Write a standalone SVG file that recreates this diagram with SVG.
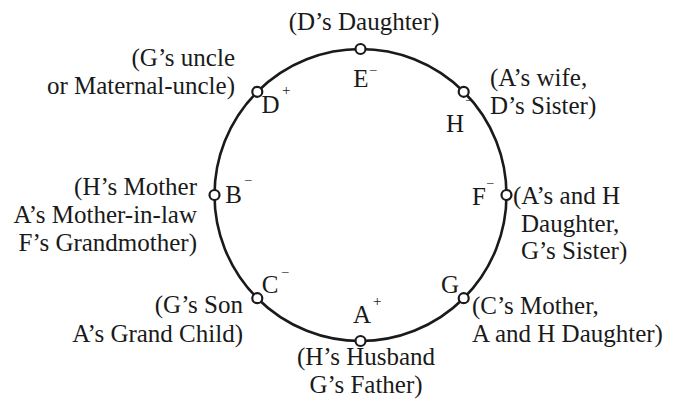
<svg xmlns="http://www.w3.org/2000/svg" width="681" height="399" viewBox="0 0 681 399" font-family="'Liberation Serif', Tinos, 'Times New Roman', 'DejaVu Serif', serif">
<style>
text{font-family:'Liberation Serif',Tinos,'Times New Roman','DejaVu Serif',serif;fill:#1a1a1a}
.t{font-size:25px}
.l{font-size:25px}
.s{font-size:13px}
.p{font-size:15px}
.m{text-anchor:middle}
.e{text-anchor:end}
.node{fill:#fff;stroke:#1a1a1a;stroke-width:2.2}
.ring{fill:none;stroke:#1a1a1a;stroke-width:2.6}
</style>
<rect width="681" height="399" fill="#fff"/>
<g id="connectors">
<circle class="ring" cx="360.5" cy="195" r="146"/>
</g>
<g id="node-E">
<circle class="node" cx="360.5" cy="49" r="5"/>
<text class="l m" x="361" y="87">E</text>
<text class="s" x="370" y="73">–</text>
<text class="t m" x="364" y="30">(D’s Daughter)</text>
</g>
<g id="node-H">
<circle class="node" cx="463.7" cy="91.8" r="5"/>
<text class="l m" x="455" y="132">H</text>
<text class="s" x="466" y="103">–</text>
<text class="t" x="490" y="86">(A’s wife,</text>
<text class="t" x="490" y="114">D’s Sister)</text>
</g>
<g id="node-F">
<circle class="node" cx="506.5" cy="195" r="5"/>
<text class="l m" x="479" y="205">F</text>
<text class="s" x="487" y="186">–</text>
<text class="t" x="513" y="204">(A’s and H</text>
<text class="t" x="521" y="232">Daughter,</text>
<text class="t" x="521" y="259">G’s Sister)</text>
</g>
<g id="node-G">
<circle class="node" cx="463.7" cy="298.2" r="5"/>
<text class="l m" x="450" y="293">G</text>
<text class="t" x="472" y="314">(C’s Mother,</text>
<text class="t" x="472" y="342">A and H Daughter)</text>
</g>
<g id="node-A">
<circle class="node" cx="360.5" cy="341" r="5"/>
<text class="l m" x="362" y="323">A</text>
<text class="p" x="373" y="306">+</text>
<text class="t m" x="366" y="365">(H’s Husband</text>
<text class="t m" x="366" y="393">G’s Father)</text>
</g>
<g id="node-C">
<circle class="node" cx="257.3" cy="298.2" r="5"/>
<text class="l m" x="270" y="293">C</text>
<text class="s" x="282" y="275">–</text>
<text class="t e" x="243" y="313">(G’s Son</text>
<text class="t e" x="243" y="342">A’s Grand Child)</text>
</g>
<g id="node-B">
<circle class="node" cx="214.5" cy="195" r="5"/>
<text class="l m" x="233.5" y="203">B</text>
<text class="s" x="245" y="183">–</text>
<text class="t e" x="197" y="195">(H’s Mother</text>
<text class="t e" x="197" y="223">A’s Mother-in-law</text>
<text class="t e" x="197" y="251">F’s Grandmother)</text>
</g>
<g id="node-D">
<circle class="node" cx="257.3" cy="91.8" r="5"/>
<text class="l m" x="270.5" y="113">D</text>
<text class="p" x="282" y="95">+</text>
<text class="t e" x="235" y="66">(G’s uncle</text>
<text class="t e" x="235" y="94">or Maternal-uncle)</text>
</g>
</svg>
